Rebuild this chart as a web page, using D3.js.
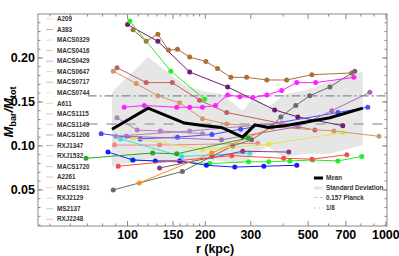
<!DOCTYPE html>
<html>
<head>
<meta charset="utf-8">
<script src="https://d3js.org/d3.v7.min.js"></script>
<style>
  body { margin: 0; background: #fff; }
  text { font-family: "Liberation Sans", Arial, sans-serif; }
</style>
</head>
<body>
<div id="chart"></div>
<script>
// baryon fraction profiles, [r (kpc), Mbar/Mtot]
var A209 = [[89,0.101],[133,0.101],[319,0.103]];
var A383 = [[100,0.238],[131,0.219],[174,0.184],[244,0.167],[371,0.141],[456,0.133],[681,0.123]];
var MACS0329 = [[94,0.108],[162,0.088],[297,0.092]];
var MACS0416 = [[105,0.232],[118,0.219],[131,0.227],[144,0.209],[156,0.210],[174,0.201],[201,0.196],[223,0.188],[251,0.178],[289,0.178],[346,0.175],[413,0.175],[517,0.181],[738,0.183]];
var MACS0429 = [[79,0.114],[112,0.108],[156,0.110],[212,0.113],[274,0.119],[652,0.138],[851,0.144]];
var MACS0647 = [[102,0.242],[147,0.185],[199,0.153]];
var MACS0717 = [[88,0.050],[163,0.071],[212,0.088],[255,0.100],[302,0.107],[362,0.122],[392,0.133],[448,0.146],[507,0.157],[607,0.167],[758,0.185]];
var MACS0744 = [[105,0.109],[195,0.096],[352,0.102],[681,0.115]];
var A611 = [[104,0.084],[208,0.080],[294,0.082],[352,0.082],[425,0.083],[521,0.084],[652,0.083],[807,0.088]];
var MACS1115 = [[91,0.189],[118,0.172],[149,0.172],[190,0.152],[242,0.138],[531,0.118]];
var MACS1149 = [[91,0.132],[109,0.118],[134,0.117],[195,0.114]];
var MACS1206 = [[84,0.093],[105,0.084],[128,0.083],[159,0.083],[202,0.078],[260,0.076],[337,0.077],[452,0.078]];
var RXJ1347 = [[133,0.075],[279,0.094],[421,0.093]];
var RXJ1532 = [[88,0.185],[108,0.171],[131,0.157],[159,0.149],[195,0.131],[242,0.125],[629,0.117],[940,0.111]];
var MACS1720 = [[99,0.111],[231,0.107],[456,0.122],[617,0.140],[867,0.161]];
var A2261 = [[92,0.077],[253,0.089],[402,0.086],[517,0.085],[706,0.090]];
var MACS1931 = [[111,0.058],[212,0.092],[362,0.121]];
var RXJ2129 = [[90,0.111],[174,0.117],[395,0.126]];
var MS2137 = [[69,0.086],[125,0.092],[155,0.091],[292,0.109]];
var RXJ2248 = [[97,0.144],[116,0.146],[155,0.144],[174,0.144],[195,0.144],[219,0.146],[244,0.158],[272,0.156],[305,0.155],[346,0.158],[395,0.163],[452,0.172],[535,0.172],[752,0.178]];

var names = ["A209","A383","MACS0329","MACS0416","MACS0429","MACS0647","MACS0717","MACS0744","A611","MACS1115",
             "MACS1149","MACS1206","RXJ1347","RXJ1532","MACS1720","A2261","MACS1931","RXJ2129","MS2137","RXJ2248"];
var series = [A209,A383,MACS0329,MACS0416,MACS0429,MACS0647,MACS0717,MACS0744,A611,MACS1115,
              MACS1149,MACS1206,RXJ1347,RXJ1532,MACS1720,A2261,MACS1931,RXJ2129,MS2137,RXJ2248];
var colors = ["#f08888","#6e1e6e","#40dede","#a87038","#4a4aff","#2ee82e","#6a6a6a","#e4e44a","#22ee22","#c06262",
              "#b47ec4","#1a1aff","#8a3a8a","#d09a66","#a070b0","#ff4a4a","#ff8c1a","#b080c0","#22aa22","#ff22ff"];

// mean and standard deviation
var meanR = [87,120,166,199,231,279,311,349,406,486,607,814];
var meanF = [0.119,0.143,0.126,0.123,0.121,0.110,0.124,0.121,0.123,0.127,0.132,0.143];
var stdF  = [0.042,0.058,0.043,0.039,0.038,0.030,0.033,0.022,0.036,0.036,0.041,0.042];

var planck = 0.157, oneEighth = 1/8;
var xTicks = [100,150,200,300,500,700,1000];
var xMinor = [50,60,70,80,90,110,120,130,140,160,170,180,190,400,600,800,900];
var yTicks = [0.05,0.10,0.15,0.20];

var W = 399, H = 256;
var svg = d3.select("#chart").append("svg").attr("width", W).attr("height", H);

var x = d3.scaleLog().domain([45, 1010]).range([38, 387]);
var y = d3.scaleLinear().domain([0.009, 0.25]).range([226, 14]);

// std band
var band = meanR.map(function(r, i) { return {r: r, m: meanF[i], s: stdF[i]}; });
svg.append("path")
  .datum(band)
  .attr("fill", "#e6e6e6")
  .attr("d", d3.area()
    .x(function(d) { return x(d.r); })
    .y0(function(d) { return y(d.m - d.s); })
    .y1(function(d) { return y(d.m + d.s); }));

// reference lines
svg.append("line")
  .attr("x1", x(70)).attr("x2", x(1010))
  .attr("y1", y(planck)).attr("y2", y(planck))
  .attr("stroke", "#888").attr("stroke-width", 1.2)
  .attr("stroke-dasharray", "9,3,2,3");
svg.append("line")
  .attr("x1", x(70)).attr("x2", x(1010))
  .attr("y1", y(oneEighth)).attr("y2", y(oneEighth))
  .attr("stroke", "#a8a8a8").attr("stroke-width", 1.6)
  .attr("stroke-dasharray", "10,9");

// clusters
var line = d3.line()
  .x(function(d) { return x(d[0]); })
  .y(function(d) { return y(d[1]); });

series.forEach(function(s, i) {
  var g = svg.append("g");
  g.append("path")
    .datum(s)
    .attr("fill", "none")
    .attr("stroke", colors[i])
    .attr("stroke-width", 1)
    .attr("d", line);
  g.selectAll("circle")
    .data(s)
    .enter()
    .append("circle")
    .attr("cx", function(d) { return x(d[0]); })
    .attr("cy", function(d) { return y(d[1]); })
    .attr("r", 2.5)
    .attr("fill", colors[i]);
});

// mean
svg.append("path")
  .datum(band)
  .attr("fill", "none")
  .attr("stroke", "#000")
  .attr("stroke-width", 3)
  .attr("d", d3.line()
    .x(function(d) { return x(d.r); })
    .y(function(d) { return y(d.m); }));

// frame and ticks
var frame = svg.append("g").attr("stroke", "#888").attr("stroke-width", 1);
frame.append("rect")
  .attr("x", 38).attr("y", 14).attr("width", 349).attr("height", 212)
  .attr("fill", "none");

function xt(v, len) {
  frame.append("line").attr("x1", x(v)).attr("x2", x(v)).attr("y1", 226).attr("y2", 226 - len);
  frame.append("line").attr("x1", x(v)).attr("x2", x(v)).attr("y1", 14).attr("y2", 14 + len);
}
function yt(v, len) {
  frame.append("line").attr("y1", y(v)).attr("y2", y(v)).attr("x1", 38).attr("x2", 38 + len);
  frame.append("line").attr("y1", y(v)).attr("y2", y(v)).attr("x1", 387).attr("x2", 387 - len);
}
xTicks.forEach(function(v) { xt(v, 5); });
xMinor.forEach(function(v) { if (v > 45) xt(v, 2.5); });
d3.range(0.01, 0.25, 0.01).forEach(function(v) { yt(v, 2.5); });
yTicks.forEach(function(v) { yt(v, 5); });

svg.selectAll(".xl")
  .data(xTicks)
  .enter()
  .append("text")
  .attr("x", function(d) { return x(d); })
  .attr("y", 239)
  .attr("text-anchor", "middle")
  .attr("font-size", 12.5).attr("font-weight", "bold")
  .text(function(d) { return d; });

svg.selectAll(".yl")
  .data(yTicks)
  .enter()
  .append("text")
  .attr("x", 35)
  .attr("y", function(d) { return y(d); })
  .attr("dy", "0.36em")
  .attr("text-anchor", "end")
  .attr("font-size", 12.5).attr("font-weight", "bold")
  .text(function(d) { return d.toFixed(2); });

svg.append("text")
  .attr("x", 215).attr("y", 253)
  .attr("text-anchor", "middle")
  .attr("font-size", 12.5).attr("font-weight", "bold")
  .text("r (kpc)");

var yl = svg.append("text")
  .attr("transform", "translate(13,112) rotate(-90)")
  .attr("text-anchor", "middle")
  .attr("font-size", 13).attr("font-weight", "bold");
yl.append("tspan").attr("font-style", "italic").text("M");
yl.append("tspan").attr("font-size", 9).attr("dy", 3).text("bar");
yl.append("tspan").attr("dy", -3).attr("font-style", "italic").text("/M");
yl.append("tspan").attr("font-size", 9).attr("dy", 3).text("tot");

// cluster legend
var leg = svg.append("g");
names.forEach(function(n, i) {
  var yy = 19 + i * 10.54;
  leg.append("line")
    .attr("x1", 46).attr("x2", 53).attr("y1", yy).attr("y2", yy)
    .attr("stroke", colors[i]).attr("stroke-opacity", 0.4).attr("stroke-width", 1);
  leg.append("text")
    .attr("x", 57).attr("y", yy).attr("dy", "0.35em")
    .attr("font-size", 6.3).attr("font-weight", "bold").attr("fill", "#333")
    .text(n);
});

// summary legend
var leg2 = svg.append("g");
var items = [
  {t: "Mean", c: "#000", w: 3, d: null},
  {t: "Standard Deviation", c: "#e6e6e6", w: 3, d: null},
  {t: "0.157 Planck", c: "#bbb", w: 0.8, d: "3,1,1,1"},
  {t: "1/8", c: "#bbb", w: 0.8, d: "2,2"}
];
var legY = [178, 188, 197.5, 208];
items.forEach(function(it, i) {
  leg2.append("line")
    .attr("x1", 314).attr("x2", 323).attr("y1", legY[i]).attr("y2", legY[i])
    .attr("stroke", it.c).attr("stroke-width", it.w)
    .attr("stroke-dasharray", it.d);
  leg2.append("text")
    .attr("x", 326).attr("y", legY[i]).attr("dy", "0.35em")
    .attr("font-size", 6.3).attr("font-weight", "bold").attr("fill", "#333")
    .text(it.t);
});
</script>
</body>
</html>
